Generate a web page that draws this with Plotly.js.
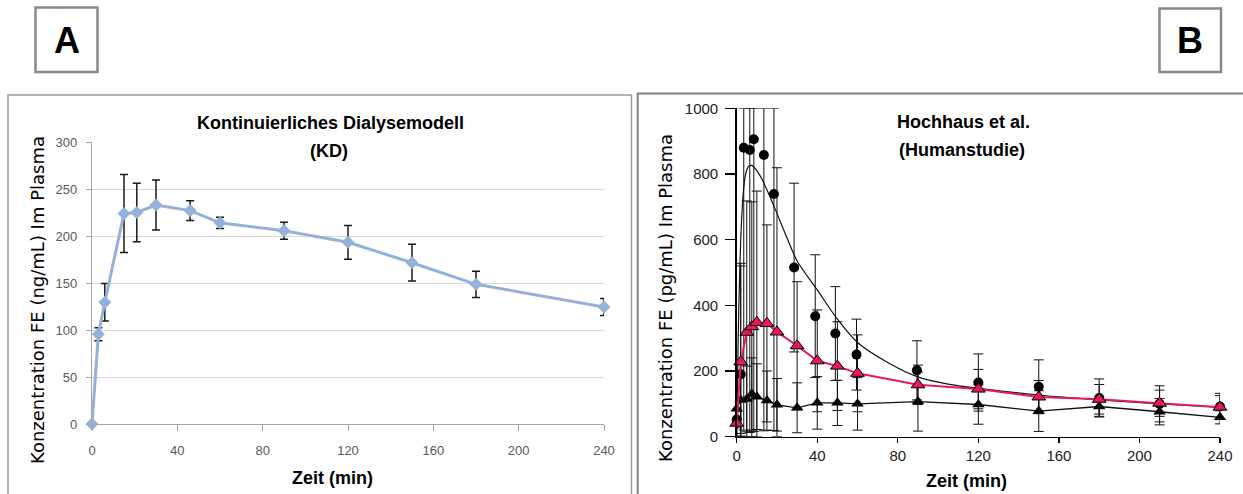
<!DOCTYPE html>
<html>
<head>
<meta charset="utf-8">
<script src="https://cdn.plot.ly/plotly-3.0.1.min.js"></script>
<style>html,body{margin:0;padding:0;background:#fff;}#chart{width:1243px;height:494px;}</style>
</head>
<body>
<div id="chart"></div>
<script>
// ---------- Panel A: Kontinuierliches Dialysemodell (KD) ----------
const timeA = [0, 3, 6, 15, 21, 30, 46, 60, 90, 120, 150, 180, 240];
const concA = [0, 95.5, 129.6, 224, 225, 233, 227, 214, 205.5, 193.3, 171.6, 148.6, 124.5];
const sdA   = [0, 7, 20, 41.5, 31, 26.5, 10.5, 6, 9, 18, 19.5, 14, 9];
const ticksA_x = [0, 40, 80, 120, 160, 200, 240];
const ticksA_y = [0, 50, 100, 150, 200, 250, 300];

// ---------- Panel B: Hochhaus et al. (Humanstudie) ----------
const timeB   = [0, 2, 5, 7.5, 10, 15, 20, 30, 40, 50, 60, 90, 120, 150, 180, 210, 240];
const pinkB   = [41, 228, 318, 335, 348, 345, 319, 277, 231, 215, 193, 158, 145, 121, 114, 102, 90];
const pinkErr = [40, 300, 400, 380, 400, 300, 500, 195, 155, 135, 117, 60, 60, 50, 45, 40, 35];
const triB    = [85, 112, 115, 130, 122, 110, 97, 88, 103, 103, 100, 107, 98, 78, 92, 76, 59];
const triErr  = [30, 110, 100, 110, 100, 90, 80, 76, 80, 69, 80, 90, 60, 62, 30, 40, 20];
const timeCirc    = [0, 2, 3.5, 6.5, 8.5, 13.5, 18.5, 28.5, 39, 49, 59.5, 89.5, 120, 150, 180, 210, 240];
const circB       = [52, 190, 880, 873, 906, 858, 739, 515, 367, 314, 250, 202, 165, 152, 118, 100, 92];
const circErrUp   = [25, 330, 120, 127, 94, 142, 261, 257, 187, 143, 108, 90, 87, 82, 58, 55, 40];
const circErrDown = [25, 180, 860, 860, 890, 840, 720, 257, 187, 143, 108, 90, 87, 82, 58, 55, 40];
const fitT = [0, 0.5, 1, 2, 3, 4, 5, 6, 7.5, 10, 12.5, 15, 20, 25, 30, 40, 50, 60, 75, 90, 105, 120, 150, 180, 210, 240];
const fitV = [0, 200, 380, 600, 720, 785, 812, 824, 826, 810, 785, 752, 680, 605, 535, 447, 358, 287, 226, 182, 160, 147, 127, 112, 100, 90];
const ticksB_x = [0, 40, 80, 120, 160, 200, 240];
const ticksB_y = [0, 200, 400, 600, 800, 1000];

// ---------- geometry helpers (pixel -> paper) ----------
const W = 1243, H = 494;
const px = v => v / W;
const py = v => 1 - v / H;

const pinkColor = '#E8185C';
const blueColor = '#93B1D9';

const traces = [
  {
    x: timeA, y: concA, xaxis: 'x', yaxis: 'y', type: 'scatter', mode: 'lines+markers',
    line: {color: blueColor, width: 3},
    marker: {symbol: 'diamond', size: 10, color: blueColor},
    error_y: {type: 'data', array: sdA, visible: true, color: '#1a1a1a', thickness: 1.5, width: 4},
    cliponaxis: false, showlegend: false, hoverinfo: 'x+y'
  },
  {
    x: fitT, y: fitV, xaxis: 'x2', yaxis: 'y2', type: 'scatter', mode: 'lines',
    line: {color: '#111', width: 1.2, shape: 'spline', smoothing: 0.8},
    showlegend: false, hoverinfo: 'skip'
  },
  {
    x: timeB, y: triB, xaxis: 'x2', yaxis: 'y2', type: 'scatter', mode: 'lines+markers',
    line: {color: '#111', width: 1.3},
    marker: {symbol: 'triangle-up', size: 11, color: '#000'},
    error_y: {type: 'data', symmetric: false, array: triErr,
              arrayminus: triB.map((v, i) => Math.min(triErr[i], v)),
              visible: true, color: '#111', thickness: 1, width: 5},
    cliponaxis: false, showlegend: false
  },
  {
    x: timeCirc, y: circB, xaxis: 'x2', yaxis: 'y2', type: 'scatter', mode: 'markers',
    marker: {symbol: 'circle', size: 10, color: '#000'},
    error_y: {type: 'data', symmetric: false, array: circErrUp,
              arrayminus: circB.map((v, i) => Math.min(circErrDown[i], v)),
              visible: true, color: '#111', thickness: 1, width: 5},
    cliponaxis: false, showlegend: false
  },
  {
    x: timeB, y: pinkB, xaxis: 'x2', yaxis: 'y2', type: 'scatter', mode: 'lines+markers',
    line: {color: pinkColor, width: 2},
    marker: {symbol: 'triangle-up', size: 12, color: pinkColor, line: {color: '#000', width: 1}},
    error_y: {type: 'data', symmetric: false, array: pinkErr,
              arrayminus: pinkB.map((v, i) => Math.min(pinkErr[i], v)),
              visible: true, color: '#111', thickness: 1, width: 5},
    cliponaxis: false, showlegend: false
  }
];

const tickFontA = {family: 'Liberation Sans, Arial, sans-serif', size: 13, color: '#595959'};
const tickFontB = {family: 'Liberation Sans, Arial, sans-serif', size: 15, color: '#222'};
const boldFont = s => ({family: 'Liberation Sans, Arial, sans-serif', size: s, color: '#000', weight: 'bold'});
const yTitleFont = {family: 'DejaVu Sans, Verdana, sans-serif', size: 18, color: '#000'};

const layout = {
  width: W, height: H,
  margin: {l: 0, r: 0, t: 0, b: 0, pad: 0},
  paper_bgcolor: '#fff', plot_bgcolor: 'rgba(0,0,0,0)',
  showlegend: false,
  xaxis: {
    domain: [px(92), px(604)], anchor: 'y', range: [0, 240],
    tickmode: 'array', tickvals: ticksA_x, ticktext: ticksA_x.map(String),
    ticks: 'outside', ticklen: 6, tickcolor: '#a6a6a6', tickwidth: 1,
    showline: true, linecolor: '#a6a6a6', linewidth: 1.2,
    showgrid: false, zeroline: false, tickfont: tickFontA, ticklabelstandoff: 8, fixedrange: true
  },
  yaxis: {
    domain: [1 - 424 / H, 1 - 142 / H], anchor: 'x', range: [0, 300],
    tickmode: 'array', tickvals: ticksA_y, ticktext: ticksA_y.map(String),
    ticks: 'outside', ticklen: 5, tickcolor: '#a6a6a6', tickwidth: 1,
    showline: true, linecolor: '#a6a6a6', linewidth: 1.2,
    showgrid: true, gridcolor: '#d9d9d9', gridwidth: 1,
    zeroline: false, tickfont: tickFontA, ticklabelstandoff: 6, fixedrange: true
  },
  xaxis3: {
    overlaying: 'x', anchor: 'y', range: [0, 240],
    tickmode: 'array', tickvals: ticksA_x, showticklabels: false,
    ticks: 'inside', ticklen: 6, tickcolor: '#a6a6a6', tickwidth: 1,
    showline: false, showgrid: false, zeroline: false, fixedrange: true
  },
  xaxis2: {
    domain: [px(736.7), px(1220)], anchor: 'y2', range: [0, 240],
    tickmode: 'array', tickvals: ticksB_x, ticktext: ticksB_x.map(String),
    ticks: 'outside', ticklen: 5, tickcolor: '#000', tickwidth: 1.2,
    showline: true, linecolor: '#000', linewidth: 1.5,
    showgrid: false, zeroline: false, tickfont: tickFontB, ticklabelstandoff: 0, fixedrange: true
  },
  yaxis2: {
    domain: [1 - 436.7 / H, 1 - 108.3 / H], anchor: 'x2', range: [0, 1000],
    tickmode: 'array', tickvals: ticksB_y, ticktext: ticksB_y.map(String),
    ticks: 'outside', ticklen: 10, tickcolor: '#000', tickwidth: 1.2,
    showline: true, linecolor: '#000', linewidth: 1.5,
    showgrid: false, zeroline: false, tickfont: tickFontB, ticklabelstandoff: 4, fixedrange: true
  },
  xaxis4: {
    overlaying: 'x2', anchor: 'y2', range: [0, 240],
    tickmode: 'array', tickvals: ticksB_x, showticklabels: false,
    ticks: 'inside', ticklen: 5, tickcolor: '#000', tickwidth: 1.2,
    showline: false, showgrid: false, zeroline: false, fixedrange: true
  },
  yaxis3: {
    overlaying: 'y2', anchor: 'x2', range: [0, 1000],
    tickmode: 'array', tickvals: ticksB_y, showticklabels: false,
    ticks: 'inside', ticklen: 6, tickcolor: '#000', tickwidth: 1.2,
    showline: false, showgrid: false, zeroline: false, fixedrange: true
  },
  shapes: [
    // panel frames
    {type: 'rect', xref: 'paper', yref: 'paper', x0: px(8), x1: px(631.5), y0: py(540), y1: py(95),
     line: {color: '#9a9a9a', width: 1.5}, fillcolor: 'rgba(0,0,0,0)', layer: 'below'},
    {type: 'rect', xref: 'paper', yref: 'paper', x0: px(637.7), x1: px(1270), y0: py(540), y1: py(93.5),
     line: {color: '#808080', width: 2}, fillcolor: 'rgba(0,0,0,0)', layer: 'below'},
    // letter boxes
    {type: 'rect', xref: 'paper', yref: 'paper', x0: px(35.5), x1: px(97.5), y0: py(72), y1: py(7.5),
     line: {color: '#888', width: 2.5}, fillcolor: 'rgba(0,0,0,0)'},
    {type: 'rect', xref: 'paper', yref: 'paper', x0: px(1159.5), x1: px(1221), y0: py(72), y1: py(8.5),
     line: {color: '#888', width: 2.5}, fillcolor: 'rgba(0,0,0,0)'}
  ],
  annotations: [
    {text: 'A', xref: 'paper', yref: 'paper', x: px(66.5), y: py(41), xanchor: 'center', yanchor: 'middle',
     showarrow: false, font: {family: 'Liberation Sans Narrow, Liberation Sans, Arial, sans-serif', size: 36, color: '#000', weight: 'bold'}},
    {text: 'B', xref: 'paper', yref: 'paper', x: px(1190), y: py(41), xanchor: 'center', yanchor: 'middle',
     showarrow: false, font: {family: 'Liberation Sans Narrow, Liberation Sans, Arial, sans-serif', size: 36, color: '#000', weight: 'bold'}},
    {text: 'Kontinuierliches Dialysemodell', xref: 'paper', yref: 'paper', x: px(330), y: py(123),
     xanchor: 'center', yanchor: 'middle', showarrow: false, font: boldFont(18)},
    {text: '(KD)', xref: 'paper', yref: 'paper', x: px(329), y: py(151),
     xanchor: 'center', yanchor: 'middle', showarrow: false, font: boldFont(18)},
    {text: 'Zeit (min)', xref: 'paper', yref: 'paper', x: px(332), y: py(478),
     xanchor: 'center', yanchor: 'middle', showarrow: false, font: boldFont(18)},
    {text: 'Konzentration FE (ng/mL) Im Plasma', xref: 'paper', yref: 'paper', x: px(37), y: py(300),
     xanchor: 'center', yanchor: 'middle', textangle: -90, showarrow: false, font: yTitleFont},
    {text: 'Hochhaus et al.', xref: 'paper', yref: 'paper', x: px(963), y: py(122),
     xanchor: 'center', yanchor: 'middle', showarrow: false, font: boldFont(18)},
    {text: '(Humanstudie)', xref: 'paper', yref: 'paper', x: px(962), y: py(150),
     xanchor: 'center', yanchor: 'middle', showarrow: false, font: boldFont(18)},
    {text: 'Zeit (min)', xref: 'paper', yref: 'paper', x: px(966), y: py(481),
     xanchor: 'center', yanchor: 'middle', showarrow: false, font: boldFont(18)},
    {text: 'Konzentration FE (pg/mL) Im Plasma', xref: 'paper', yref: 'paper', x: px(665), y: py(298),
     xanchor: 'center', yanchor: 'middle', textangle: -90, showarrow: false, font: yTitleFont}
  ]
};

Plotly.newPlot('chart', traces, layout, {displayModeBar: false, staticPlot: true});
</script>
</body>
</html>
